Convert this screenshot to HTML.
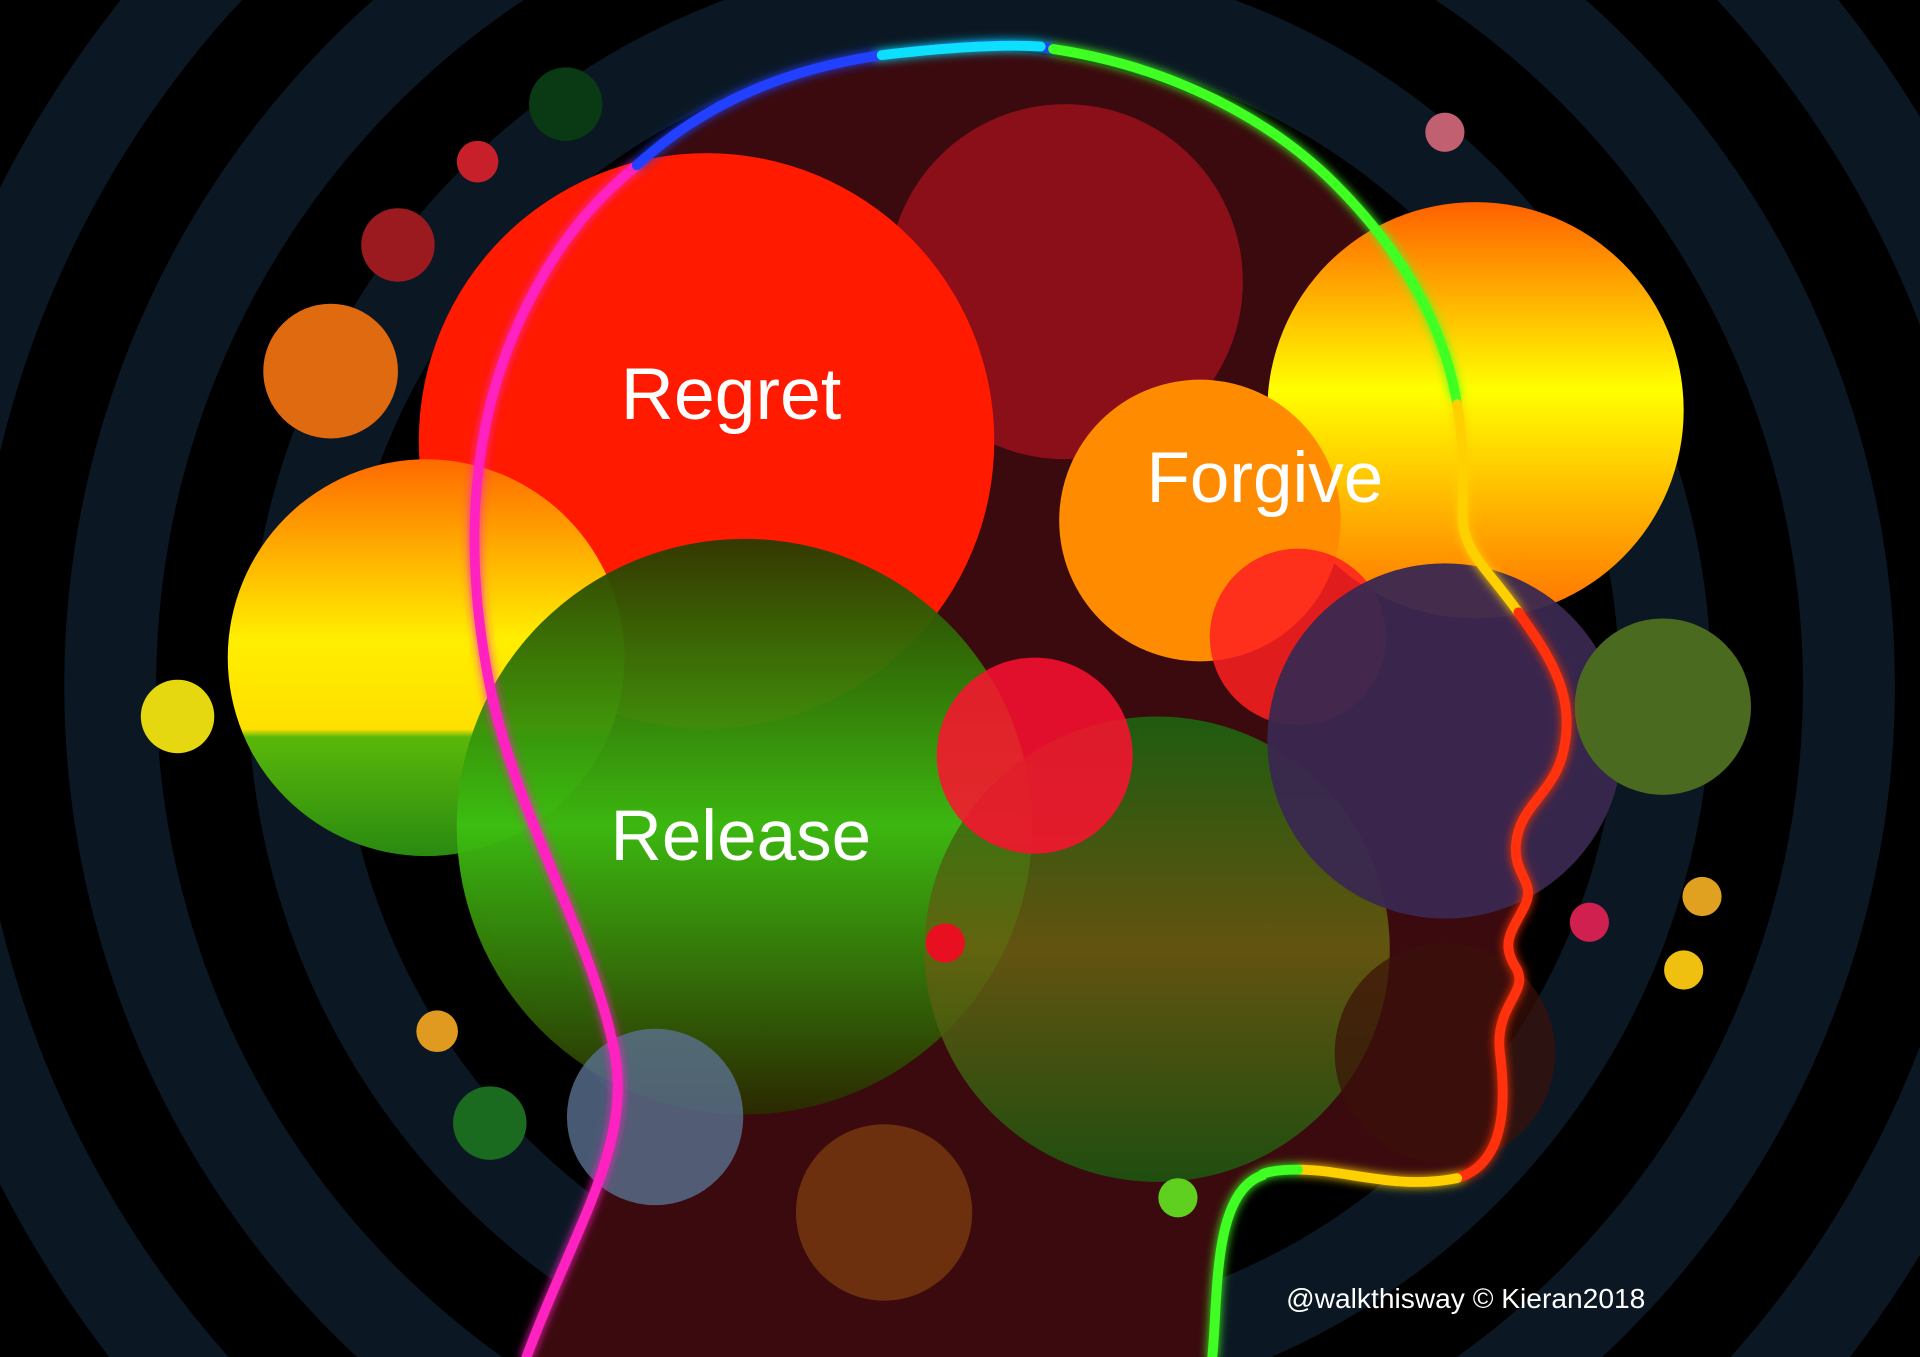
<!DOCTYPE html>
<html><head><meta charset="utf-8"><style>
html,body{margin:0;padding:0;background:#000;width:1920px;height:1357px;overflow:hidden;}
svg{display:block;overflow:hidden;}
</style></head><body>
<svg width="1920" height="1357" viewBox="0 0 1568 1108" preserveAspectRatio="none" xmlns="http://www.w3.org/2000/svg">
<defs>
<clipPath id="frame"><rect width="1568" height="1108"/></clipPath>
<linearGradient id="yel" x1="0" y1="0" x2="0" y2="1">
<stop offset="0" stop-color="#ff6a00"/><stop offset="0.45" stop-color="#ffee00"/><stop offset="0.68" stop-color="#ffe000"/><stop offset="0.7" stop-color="#5ab80a"/><stop offset="1" stop-color="#2a8a10"/>
</linearGradient>
<linearGradient id="yel2" x1="0" y1="0" x2="0" y2="1">
<stop offset="0" stop-color="#ff6000"/><stop offset="0.45" stop-color="#ffff00"/><stop offset="0.75" stop-color="#ffb000"/><stop offset="1" stop-color="#ff7000"/>
</linearGradient>
<linearGradient id="grn" x1="0" y1="0" x2="0" y2="1">
<stop offset="0" stop-color="#2a3a00"/><stop offset="0.5" stop-color="#3cc010"/><stop offset="1" stop-color="#2a2a00"/>
</linearGradient>
<linearGradient id="olive" x1="0" y1="0" x2="0" y2="1">
<stop offset="0" stop-color="#1a6a10"/><stop offset="0.5" stop-color="#6a6010"/><stop offset="1" stop-color="#1a5a10"/>
</linearGradient>
<filter id="glow" x="-20%" y="-20%" width="140%" height="140%"><feGaussianBlur stdDeviation="4" result="b"/><feMerge><feMergeNode in="b"/><feMergeNode in="SourceGraphic"/></feMerge></filter>
</defs>
<g clip-path="url(#frame)">
<rect width="1568" height="1108" fill="#000"/>
<g fill="none" stroke="#0b1824" stroke-width="75">
<circle cx="800" cy="560" r="110"/><circle cx="800" cy="560" r="260"/><circle cx="800" cy="560" r="410"/><circle cx="800" cy="560" r="560"/><circle cx="800" cy="560" r="710"/><circle cx="800" cy="560" r="860"/>
</g>
<path d="M430,1108 C470,1000 520,930 500,850 C480,760 420,660 400,560 C380,460 380,350 430,250 C480,150 580,70 720,45 C860,25 1000,70 1090,150 C1170,220 1200,320 1195,420 C1192,450 1215,465 1240,500 C1265,535 1290,570 1275,620 C1265,650 1240,660 1238,690 C1236,715 1255,720 1245,740 C1235,760 1225,770 1238,790 C1250,810 1220,820 1225,860 C1230,900 1230,950 1190,962 C1140,972 1070,945 1030,960 C990,975 995,1060 990,1108 Z" fill="#3a0a0e"/>
<g>
<circle cx="870" cy="230" r="145" fill="#a0101c" opacity="0.8"/>
<circle cx="577" cy="360" r="235" fill="#ff1a00"/>
<circle cx="1205" cy="335" r="170" fill="url(#yel2)"/>
<circle cx="980" cy="425" r="115" fill="#ff8c00"/>
<circle cx="348" cy="537" r="162" fill="url(#yel)"/>
<circle cx="608" cy="675" r="235" fill="url(#grn)" opacity="0.95"/>
<circle cx="945" cy="775" r="190" fill="url(#olive)" opacity="0.85"/>
<circle cx="845" cy="617" r="80" fill="#ff1030" opacity="0.85"/>
<circle cx="1060" cy="520" r="72" fill="#ff2020" opacity="0.85"/>
<circle cx="1180" cy="605" r="145" fill="#3a2850" opacity="0.95"/>
<circle cx="1358" cy="577" r="72" fill="#4a6a20"/>
<circle cx="535" cy="912" r="72" fill="#5a7090" opacity="0.8"/>
<circle cx="722" cy="990" r="72" fill="#7a3a10" opacity="0.8"/>
<circle cx="1180" cy="860" r="90" fill="#3a1008" opacity="0.7"/>
<circle cx="462" cy="85" r="30" fill="#0a3a14"/>
<circle cx="390" cy="132" r="17" fill="#c8202a"/>
<circle cx="325" cy="200" r="30" fill="#9a1a20"/>
<circle cx="270" cy="303" r="55" fill="#e06a10"/>
<circle cx="145" cy="585" r="30" fill="#e6d810"/>
<circle cx="357" cy="842" r="17" fill="#e09a20"/>
<circle cx="400" cy="917" r="30" fill="#1a6a20"/>
<circle cx="772" cy="770" r="16" fill="#e81020"/>
<circle cx="962" cy="978" r="16" fill="#60d020"/>
<circle cx="1180" cy="108" r="16" fill="#c06070"/>
<circle cx="1390" cy="732" r="16" fill="#e0a020"/>
<circle cx="1375" cy="792" r="16" fill="#f0c010"/>
<circle cx="1298" cy="753" r="16" fill="#d02050"/>
</g>
<g fill="none" stroke-width="8" stroke-linecap="round" filter="url(#glow)">
<path d="M430,1108 C470,1000 520,930 500,850 C480,760 420,660 400,560 C380,460 380,350 430,250 C460,190 490,160 520,135" stroke="#ff20c0"/>
<path d="M520,135 C580,80 650,55 720,45 C800,35 840,35 860,40" stroke="#2040ff"/>
<path d="M720,45 C780,38 820,36 850,38" stroke="#10e0ff"/>
<path d="M860,40 C960,55 1040,100 1090,150 C1150,210 1180,270 1190,330" stroke="#40ff20"/>
<path d="M1190,330 C1198,380 1193,410 1195,430 C1200,455 1215,465 1240,500" stroke="#ffd000"/>
<path d="M1240,500 C1265,535 1290,570 1275,620 C1265,650 1240,660 1238,690 C1236,715 1255,720 1245,740 C1235,760 1225,770 1238,790 C1250,810 1220,820 1225,860 C1230,900 1230,950 1190,962" stroke="#ff3010"/>
<path d="M1190,962 C1140,972 1100,955 1060,955" stroke="#ffd000"/>
<path d="M1060,955 C1040,955 1030,958 1030,960 C990,975 995,1060 990,1108" stroke="#40ff20"/>
</g>
<g fill="#fff" font-family="'Liberation Sans', sans-serif" text-anchor="middle">
<text x="597" y="342" font-size="60">Regret</text>
<text x="1033" y="410" font-size="58">Forgive</text>
<text x="605" y="702" font-size="58">Release</text>
<text x="1197" y="1068" font-size="23">@walkthisway © Kieran2018</text>
</g>
</g>
</svg>
</body></html>
